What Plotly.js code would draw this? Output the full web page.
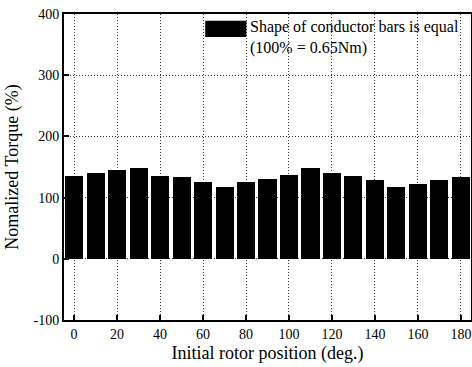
<!DOCTYPE html>
<html>
<head>
<meta charset="utf-8">
<script src="https://cdn.plot.ly/plotly-3.0.1.min.js"></script>
<style>html,body{margin:0;padding:0;background:#fff;}#chart{width:472px;height:367px;}</style>
</head>
<body>
<div id="chart"></div>
<script>
const positions = [0,10,20,30,40,50,60,70,80,90,100,110,120,130,140,150,160,170,180];
const torque = [135,140,145,149,136,133,125,117,125,131,137,148,141,135,128,117,123,129,134];
const xTicks = [0,20,40,60,80,100,120,140,160,180];
const yTicks = [-100,0,100,200,300,400];
const seriesName = "Shape of conductor bars is equal";
const note = "(100% = 0.65Nm)";

const family = "Times New Roman, Liberation Serif, Times, serif";
const font = {family: family, color: "#000", size: 16};
const tickFont = {family: family, color: "#000", size: 14};
const titleFont = {family: family, color: "#000", size: 18};

const trace = {
  type: "bar",
  x: positions,
  y: torque,
  width: 8.4,
  marker: {color: "#000", line: {width: 0}},
  name: seriesName,
  showlegend: false
};

const axisCommon = {
  showline: true, linecolor: "#000", linewidth: 2, mirror: true,
  ticks: "inside", ticklen: 5, tickwidth: 2, tickcolor: "#000",
  showgrid: true, gridcolor: "#333", griddash: "1px,2px", gridwidth: 1,
  zeroline: false, tickfont: tickFont, ticklabeloverflow: "allow"
};

const layout = {
  width: 472, height: 367,
  margin: {l: 64, r: 1, t: 14, b: 47},
  paper_bgcolor: "#fff", plot_bgcolor: "#fff",
  font: font,
  xaxis: Object.assign({}, axisCommon, {
    range: [-4.7, 184.7], tickvals: xTicks, ticktext: xTicks.map(String),
    title: {text: "Initial rotor position (deg.)", font: titleFont, standoff: 6}
  }),
  yaxis: Object.assign({}, axisCommon, {
    range: [-100, 400], tickvals: yTicks, ticktext: yTicks.map(String),
    title: {text: "Nomalized Torque (%)", font: titleFont, standoff: 10}
  }),
  shapes: [{
    type: "rect", xref: "paper", yref: "paper",
    x0: 0.347, x1: 0.448, y0: 0.925, y1: 0.978,
    fillcolor: "#000", line: {width: 0}
  }],
  annotations: [{
    xref: "paper", yref: "paper", x: 0.452, y: 0.995, xanchor: "left", yanchor: "top",
    align: "left", showarrow: false,
    text: seriesName + "<br>" + note, font: font
  }],
  bargap: 0
};

Plotly.newPlot("chart", [trace], layout, {staticPlot: true, displayModeBar: false});
</script>
</body>
</html>
